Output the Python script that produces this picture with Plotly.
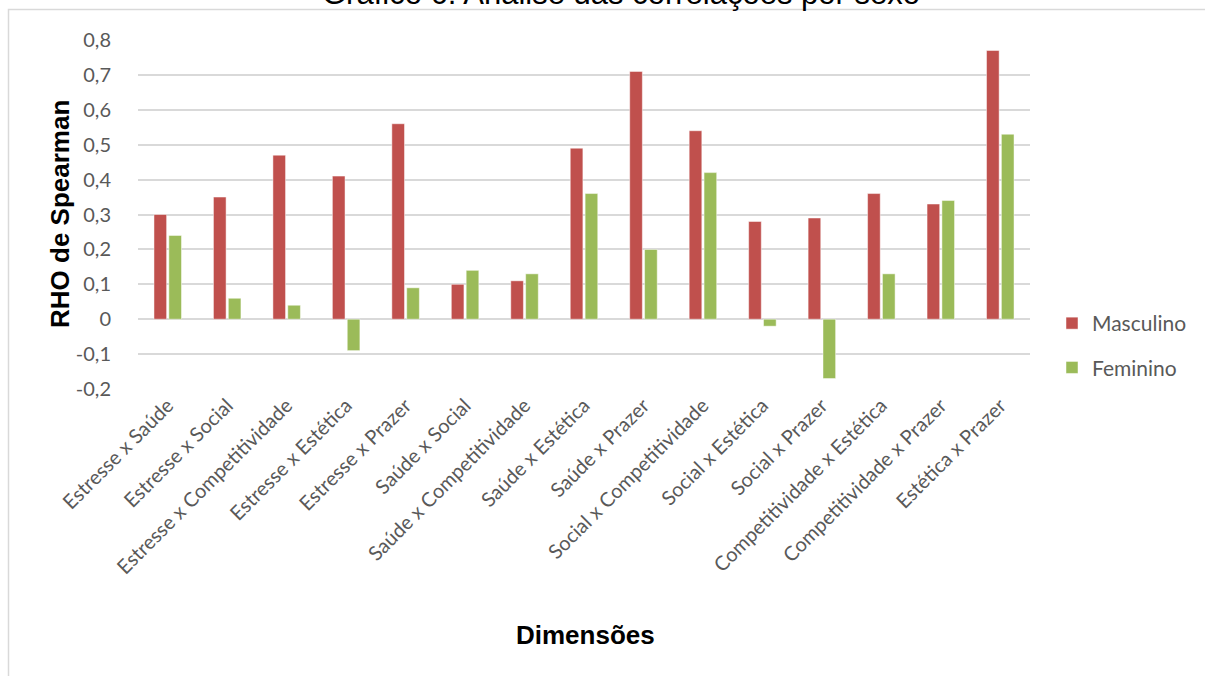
import plotly.graph_objects as go

categories = ["Estresse x Saúde", "Estresse x Social", "Estresse x Competitividade",
              "Estresse x Estética", "Estresse x Prazer", "Saúde x Social",
              "Saúde x Competitividade", "Saúde x Estética", "Saúde x Prazer",
              "Social x Competitividade", "Social x Estética", "Social x Prazer",
              "Competitividade x Estética", "Competitividade x Prazer", "Estética x Prazer"]
masculino = [0.30, 0.35, 0.47, 0.41, 0.56, 0.10, 0.11, 0.49, 0.71, 0.54, 0.28, 0.29, 0.36, 0.33, 0.77]
feminino = [0.24, 0.06, 0.04, -0.09, 0.09, 0.14, 0.13, 0.36, 0.20, 0.42, -0.02, -0.17, 0.13, 0.34, 0.53]
y_ticks = [-0.2, -0.1, 0, 0.1, 0.2, 0.3, 0.4, 0.5, 0.6, 0.7, 0.8]
y_tick_labels = ["-0,2", "-0,1", "0", "0,1", "0,2", "0,3", "0,4", "0,5", "0,6", "0,7", "0,8"]

W, H = 1205, 676
L, R, T, B = 138, 1030, 40, 389
pw, ph = R - L, B - T

def px(x):
    return (x - L) / pw

def py(y):
    return (B - y) / ph

fig = go.Figure()
fig.add_trace(go.Bar(x=categories, y=masculino, name="Masculino", legendgroup="m",
                     marker=dict(color="#C0504D", line=dict(color="rgba(255,255,255,0.6)", width=0.8))))
fig.add_trace(go.Bar(x=categories, y=feminino, name="Feminino", legendgroup="f",
                     marker=dict(color="#9BBB59", line=dict(color="rgba(255,255,255,0.6)", width=0.8))))

tick_font = dict(family="Lato, Open Sans, sans-serif", size=20, color="#595959")

fig.update_layout(
    width=W, height=H,
    margin=dict(l=L, r=W - R, t=T, b=H - B, pad=0, autoexpand=False),
    paper_bgcolor="white", plot_bgcolor="white",
    barmode="group", bargap=0.5, bargroupgap=0.15,
    showlegend=True,
    legend=dict(x=px(1052), y=py(303), xanchor="left", yanchor="top",
                font=dict(family="Lato, Open Sans, sans-serif", size=21, color="#595959"),
                tracegroupgap=14, itemwidth=30, traceorder="grouped"),
    xaxis=dict(tickangle=-45, tickfont=tick_font, showgrid=False, showline=False,
               ticks="", automargin=False),
    yaxis=dict(range=[-0.2, 0.8], tickvals=y_ticks, ticktext=y_tick_labels,
               tickfont=tick_font, showgrid=True, gridcolor="#D9D9D9", gridwidth=1.5,
               zeroline=True, zerolinecolor="#D9D9D9", zerolinewidth=1.5,
               showline=False, ticks="outside", ticklen=22, tickcolor="rgba(0,0,0,0)",
               automargin=False),
    font=dict(family="Lato, Open Sans, sans-serif"),
)

fig.add_annotation(text="<b>Dimensões</b>", xref="paper", yref="paper", x=px(585), y=py(635),
                   showarrow=False, xanchor="center", yanchor="middle",
                   font=dict(family="Arial, Liberation Sans", size=26, color="black"))
fig.add_annotation(text="<b>RHO de Spearman</b>", xref="paper", yref="paper", x=px(60), y=py(214),
                   showarrow=False, xanchor="center", yanchor="middle", textangle=-90,
                   font=dict(family="Arial, Liberation Sans", size=26, color="black"))
# clipped title
fig.add_annotation(text="Gráfico 6: Análise das correlações por sexo", xref="paper", yref="paper",
                   x=px(621), y=py(13), showarrow=False, xanchor="center", yanchor="bottom",
                   font=dict(family="Arial, Liberation Sans", size=31, color="black"))
# chart border
fig.add_shape(type="rect", xref="paper", yref="paper", x0=px(8.5), y0=py(690), x1=px(1215), y1=py(9.5),
              line=dict(color="#D9D9D9", width=1.5), fillcolor="rgba(0,0,0,0)", layer="below")

fig.write_html("out.html")
